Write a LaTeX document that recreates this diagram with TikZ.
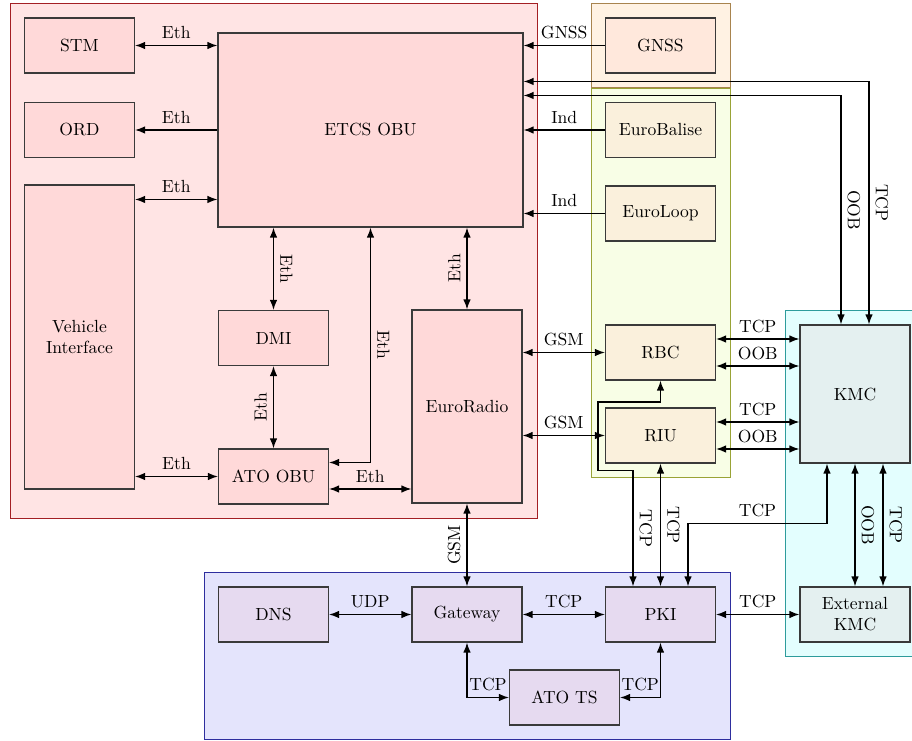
\documentclass[tikz,border=0pt]{standalone}
\usetikzlibrary{arrows.meta,positioning,fit,calc,backgrounds}
\definecolor{boxline}{HTML}{3A3A3A}
\definecolor{obubg}{HTML}{FFE4E4}
\definecolor{obuline}{HTML}{A31F24}
\definecolor{obubox}{HTML}{FFD9D9}
\definecolor{gnssbg}{HTML}{FFF2E3}
\definecolor{gnssline}{HTML}{A8844E}
\definecolor{gnssbox}{HTML}{FFE8DC}
\definecolor{trackbg}{HTML}{F8FEE6}
\definecolor{trackline}{HTML}{99A336}
\definecolor{trackbox}{HTML}{FAF0DC}
\definecolor{kmcbg}{HTML}{E3FEFE}
\definecolor{kmcline}{HTML}{2E9C9C}
\definecolor{kmcbox}{HTML}{E4F0F0}
\definecolor{netbg}{HTML}{E4E4FC}
\definecolor{netline}{HTML}{2E2E9E}
\definecolor{netbox}{HTML}{E6DAF0}

\begin{document}
\begin{tikzpicture}[
  box/.style={draw=boxline, semithick, minimum width=2.2cm, minimum height=1.1cm, align=center},
  obox/.style={box, fill=obubox},
  gbox/.style={box, fill=gnssbox},
  tbox/.style={box, fill=trackbox},
  kbox/.style={box, fill=kmcbox},
  nbox/.style={box, fill=netbox},
  zone/.style={inner sep=0.28cm},
  arrow/.style={-{Latex[length=2mm]}, thick},
  biarrow/.style={{Latex[length=2mm]}-{Latex[length=2mm]}, thick},
  rlabel/.style={rotate=-90, anchor=south},
  llabel/.style={rotate=90, anchor=south},
]
\useasboundingbox (0,0) rectangle (18.24,14.8);

\node[obox] (stm) at (1.59,13.89) {STM};
\node[obox] (ord) at (1.59,12.2) {ORD};
\node[obox, minimum height=6.08cm] (vi) at (1.59,8.06) {Vehicle\\Interface};
\node[obox, minimum width=6.1cm, minimum height=3.88cm] (etcs) at (7.41,12.2) {ETCS OBU};
\node[obox] (dmi) at (5.47,8.04) {DMI};
\node[obox] (ato) at (5.47,5.27) {ATO OBU};
\node[obox, minimum height=3.86cm] (radio) at (9.34,6.67) {EuroRadio};

\node[gbox] (gnss) at (13.21,13.89) {GNSS};
\node[tbox] (balise) at (13.21,12.2) {EuroBalise};
\node[tbox] (loop) at (13.21,10.53) {EuroLoop};
\node[tbox] (rbc) at (13.21,7.75) {RBC};
\node[tbox] (riu) at (13.21,6.09) {RIU};

\node[kbox, minimum height=2.76cm] (kmc) at (17.1,6.92) {KMC};
\node[kbox] (ext) at (17.1,2.51) {External\\KMC};

\node[nbox] (dns) at (5.47,2.51) {DNS};
\node[nbox] (gateway) at (9.34,2.51) {Gateway};
\node[nbox] (pki) at (13.21,2.51) {PKI};
\node[nbox] (atots) at (11.29,0.85) {ATO TS};

\begin{scope}[on background layer]
\node[zone, fill=obubg, draw=obuline, fit=(stm)(vi)(etcs)(radio)(ato)] (obuzone) {};
\node[zone, fill=gnssbg, draw=gnssline, fit=(gnss)] (gnsszone) {};
\node[zone, fill=trackbg, draw=trackline, fit=(balise)(riu)] (trackzone) {};
\node[zone, fill=kmcbg, draw=kmcline, fit=(kmc)(ext)] (kmczone) {};
\node[zone, fill=netbg, draw=netline, fit=(dns)(pki)(atots)] (netzone) {};
\end{scope}

\coordinate (vitop) at ([yshift=-0.3cm]vi.north east);
\coordinate (atohi) at ([yshift=0.28cm]ato.east);
\coordinate (atolo) at ([yshift=-0.25cm]ato.east);
\coordinate (etcstcp) at ([yshift=-0.98cm]etcs.north east);
\coordinate (etcsoob) at ([yshift=-1.26cm]etcs.north east);
\coordinate (kmcoob) at ([xshift=-0.28cm]kmc.north);
\coordinate (kmctcp) at ([xshift=0.28cm]kmc.north);
\coordinate (rbctcp) at ([yshift=0.27cm]rbc.east);
\coordinate (rbcoob) at ([yshift=-0.27cm]rbc.east);
\coordinate (riutcp) at ([yshift=0.27cm]riu.east);
\coordinate (riuoob) at ([yshift=-0.27cm]riu.east);
\coordinate (kmcpki) at ([xshift=-0.56cm]kmc.south);
\coordinate (kmcext) at ([xshift=0.56cm]kmc.south);
\coordinate (pkikmc) at ([xshift=0.55cm]pki.north);
\coordinate (pkirbc) at ([xshift=-0.55cm]pki.north);

\draw[biarrow] (stm.east) -- node[above] {Eth} (stm.east -| etcs.west);
\draw[arrow] (etcs.west) -- node[above] {Eth} (ord.east);
\draw[biarrow] (vitop) -- node[above] {Eth} (vitop -| etcs.west);
\draw[biarrow] (ato.west) -- node[above] {Eth} (ato.west -| vi.east);
\draw[biarrow] (etcs.south -| dmi.north) -- node[rlabel] {Eth} (dmi.north);
\draw[biarrow] (ato.north) -- node[llabel] {Eth} (dmi.south);
\draw[biarrow] (etcs.south) |- node[pos=0.25, rlabel] {Eth} (atohi);
\draw[biarrow] (atolo) -- node[above] {Eth} (atolo -| radio.west);
\draw[biarrow] (radio.north) -- node[llabel] {Eth} (radio.north |- etcs.south);
\draw[biarrow] (gateway.north) -- node[llabel] {GSM} (radio.south);

\draw[arrow] (gnss.west) -- node[above] {GNSS} (gnss.west -| etcs.east);
\draw[arrow] (balise.west) -- node[above] {Ind} (balise.west -| etcs.east);
\draw[arrow] (loop.west) -- node[above] {Ind} (loop.west -| etcs.east);
\draw[biarrow] (rbc.west) -- node[above] {GSM} (rbc.west -| radio.east);
\draw[biarrow] (riu.west) -- node[above] {GSM} (riu.west -| radio.east);

\draw[biarrow] (etcstcp) -| node[pos=0.75, rlabel] {TCP} (kmctcp);
\draw[biarrow] (etcsoob) -| node[pos=0.75, rlabel] {OOB} (kmcoob);
\draw[biarrow] (rbctcp) -- node[above] {TCP} (rbctcp -| kmc.west);
\draw[biarrow] (rbcoob) -- node[above] {OOB} (rbcoob -| kmc.west);
\draw[biarrow] (riutcp) -- node[above] {TCP} (riutcp -| kmc.west);
\draw[biarrow] (riuoob) -- node[above] {OOB} (riuoob -| kmc.west);

\draw[biarrow] (rbc.south) -- ++(0,-0.43) -| ++(-1.25,-1.37) -| node[pos=0.75, rlabel] {TCP} (pkirbc);
\draw[biarrow] (riu.south) -- node[rlabel] {TCP} (pki.north);
\draw[biarrow] (kmcpki) -- ++(0,-1.2) -| node[pos=0.25, above] {TCP} (pkikmc);
\draw[biarrow] (kmc.south) -- node[rlabel] {OOB} (ext.north);
\draw[biarrow] (kmcext) -- node[rlabel] {TCP} (kmcext |- ext.north);
\draw[biarrow] (ext.west) -- node[above] {TCP} (pki.east);

\draw[biarrow] (dns) -- node[above] {UDP} (gateway);
\draw[biarrow] (gateway) -- node[above] {TCP} (pki);
\draw[biarrow] (gateway.south) |- node[pos=0.75, above] {TCP} (atots.west);
\draw[biarrow] (pki.south) |- node[pos=0.75, above] {TCP} (atots.east);
\end{tikzpicture}
\end{document}
